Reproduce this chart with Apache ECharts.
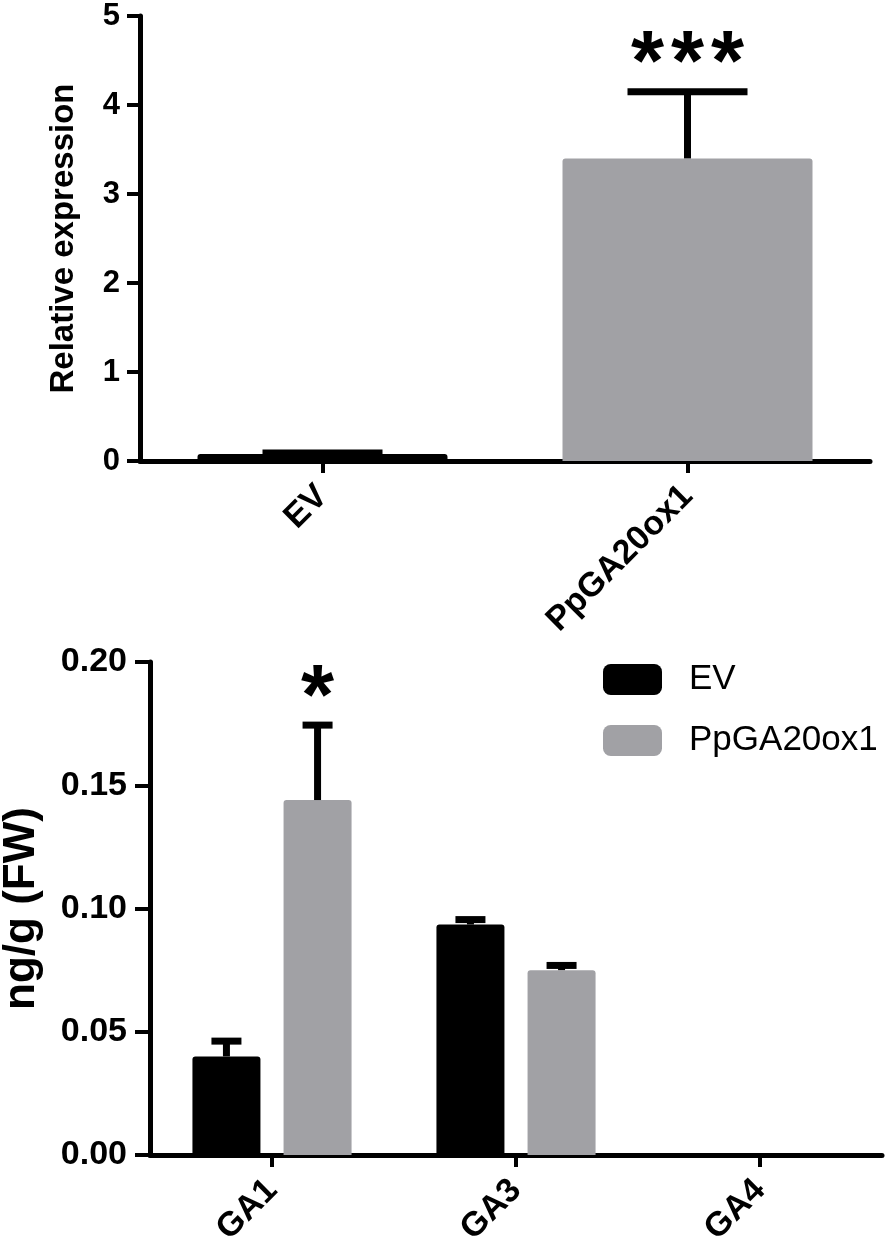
<!DOCTYPE html>
<html><head><meta charset="utf-8">
<script src="https://cdn.jsdelivr.net/npm/echarts@6/dist/echarts.min.js"></script>
<style>html,body{margin:0;padding:0;background:#fff}#c{width:893px;height:1248px}</style>
</head><body><div id="c"></div>
<script>
// ---- Top chart data ----
const topCategories = ['EV', 'PpGA20ox1'];
const topValues = [0.08, 3.40];
const topErrTop = [0.09, 4.15];
const topSig = ['', '***'];
const topYTitle = 'Relative expression';

// ---- Bottom chart data ----
const botCategories = ['GA1', 'GA3', 'GA4'];
const botSeriesNames = ['EV', 'PpGA20ox1'];
const evValues = [0.040, 0.0935, 0];
const evErrTop = [0.0462, 0.0955, 0];
const evSig = ['', '', ''];
const ppValues = [0.144, 0.075, 0];
const ppErrTop = [0.1744, 0.0769, 0];
const ppSig = ['*', '', ''];
const botYTitle = 'ng/g (FW)';

const FONT = "'Liberation Sans', Arial, Helvetica, sans-serif";
const BLACK = '#000000';
const GREY = '#a1a1a5';

const BOT_BAR_W = 68, BOT_GAP = 0.34;
const botOffset = BOT_BAR_W * (1 + BOT_GAP) / 2;

function errSeries(xi, yi, values, tops, sig, offsetPx, capW) {
  return {
    type: 'custom', xAxisIndex: xi, yAxisIndex: yi, z: 5, silent: true,
    encode: { x: 0, y: [1, 2] },
    data: values.map((v, i) => [i, v, tops[i]]),
    renderItem(params, api) {
      const i = api.value(0), v = api.value(1), t = api.value(2);
      const s = sig[params.dataIndex];
      if (!(t > v) && !s) return null;
      const base = api.coord([i, v]);
      const top = api.coord([i, t]);
      const x = base[0] + offsetPx;
      const children = [];
      if (t > v) {
        children.push({ type: 'line', shape: { x1: x, y1: base[1], x2: x, y2: top[1] }, style: { stroke: BLACK, lineWidth: 7 } });
        children.push({ type: 'line', shape: { x1: x - capW / 2, y1: top[1], x2: x + capW / 2, y2: top[1] }, style: { stroke: BLACK, lineWidth: 7 } });
      }
      if (s) {
        const pitch = 40;
        const n = s.length;
        for (let k = 0; k < n; k++) {
          children.push({
            type: 'text', x: x + (k - (n - 1) / 2) * pitch, y: top[1] - 25,
            style: { text: s[k], fontSize: 85, fontWeight: 'bold', fontFamily: FONT, fill: BLACK, align: 'center', verticalAlign: 'middle' }
          });
        }
      }
      return { type: 'group', children };
    }
  };
}

const xLabel = { rotate: 45, margin: 30, fontSize: 34, fontWeight: 'bold', color: BLACK, fontFamily: FONT };

const chart = echarts.init(document.getElementById('c'), null, { renderer: 'canvas' });
chart.setOption({
  backgroundColor: '#ffffff',
  animation: false,
  legend: {
    data: botSeriesNames, orient: 'vertical', left: 603, top: 662, padding: 0,
    itemWidth: 59, itemHeight: 31, itemGap: 26, icon: 'roundRect',
    textStyle: { fontSize: 35, color: BLACK, fontFamily: FONT, padding: [0, 0, 0, 22] }
  },
  grid: [
    { left: 140, top: 16, width: 730, height: 445, containLabel: false, outerBoundsMode: 'none' },
    { left: 150, top: 662, width: 732, height: 493, containLabel: false, outerBoundsMode: 'none' }
  ],
  xAxis: [
    {
      type: 'category', gridIndex: 0, data: topCategories,
      axisLine: { show: true, lineStyle: { color: BLACK, width: 5 } },
      axisTick: { show: true, alignWithLabel: true, length: 12, lineStyle: { color: BLACK, width: 4 } },
      axisLabel: xLabel
    },
    {
      type: 'category', gridIndex: 1, data: botCategories,
      axisLine: { show: true, lineStyle: { color: BLACK, width: 5 } },
      axisTick: { show: true, alignWithLabel: true, length: 12, lineStyle: { color: BLACK, width: 4 } },
      axisLabel: xLabel
    }
  ],
  yAxis: [
    {
      type: 'value', gridIndex: 0, min: 0, max: 5, interval: 1,
      name: topYTitle, nameLocation: 'middle', nameGap: 60,
      nameTextStyle: { fontSize: 33, fontWeight: 'bold', color: BLACK, fontFamily: FONT },
      axisLine: { show: true, lineStyle: { color: BLACK, width: 5 } },
      axisTick: { show: true, length: 13, lineStyle: { color: BLACK, width: 4 } },
      splitLine: { show: false },
      axisLabel: { margin: 20, fontSize: 31, fontWeight: 'bold', color: BLACK, fontFamily: FONT }
    },
    {
      type: 'value', gridIndex: 1, min: 0, max: 0.2, interval: 0.05,
      name: botYTitle, nameLocation: 'middle', nameGap: 106,
      nameTextStyle: { fontSize: 44, fontWeight: 'bold', color: BLACK, fontFamily: FONT },
      axisLine: { show: true, lineStyle: { color: BLACK, width: 5 } },
      axisTick: { show: true, length: 15, lineStyle: { color: BLACK, width: 4 } },
      splitLine: { show: false },
      axisLabel: { margin: 23, fontSize: 34, fontWeight: 'bold', color: BLACK, fontFamily: FONT, formatter: v => v.toFixed(2) }
    }
  ],
  series: [
    {
      name: topYTitle, type: 'bar', xAxisIndex: 0, yAxisIndex: 0, barWidth: 250,
      data: topValues.map((v, i) => ({ value: v, itemStyle: { color: i === 0 ? BLACK : GREY } })),
      itemStyle: { borderRadius: [3, 3, 0, 0] }
    },
    errSeries(0, 0, topValues, topErrTop, topSig, 0, 120),
    {
      name: botSeriesNames[0], type: 'bar', xAxisIndex: 1, yAxisIndex: 1,
      barWidth: BOT_BAR_W, barGap: (BOT_GAP * 100) + '%',
      data: evValues, itemStyle: { color: BLACK, borderRadius: [3, 3, 0, 0] }
    },
    {
      name: botSeriesNames[1], type: 'bar', xAxisIndex: 1, yAxisIndex: 1,
      barWidth: BOT_BAR_W, barGap: (BOT_GAP * 100) + '%',
      data: ppValues, itemStyle: { color: GREY, borderRadius: [3, 3, 0, 0] }
    },
    errSeries(1, 1, evValues, evErrTop, evSig, -botOffset, 30),
    errSeries(1, 1, ppValues, ppErrTop, ppSig, botOffset, 30)
  ]
});
</script>
</body></html>
